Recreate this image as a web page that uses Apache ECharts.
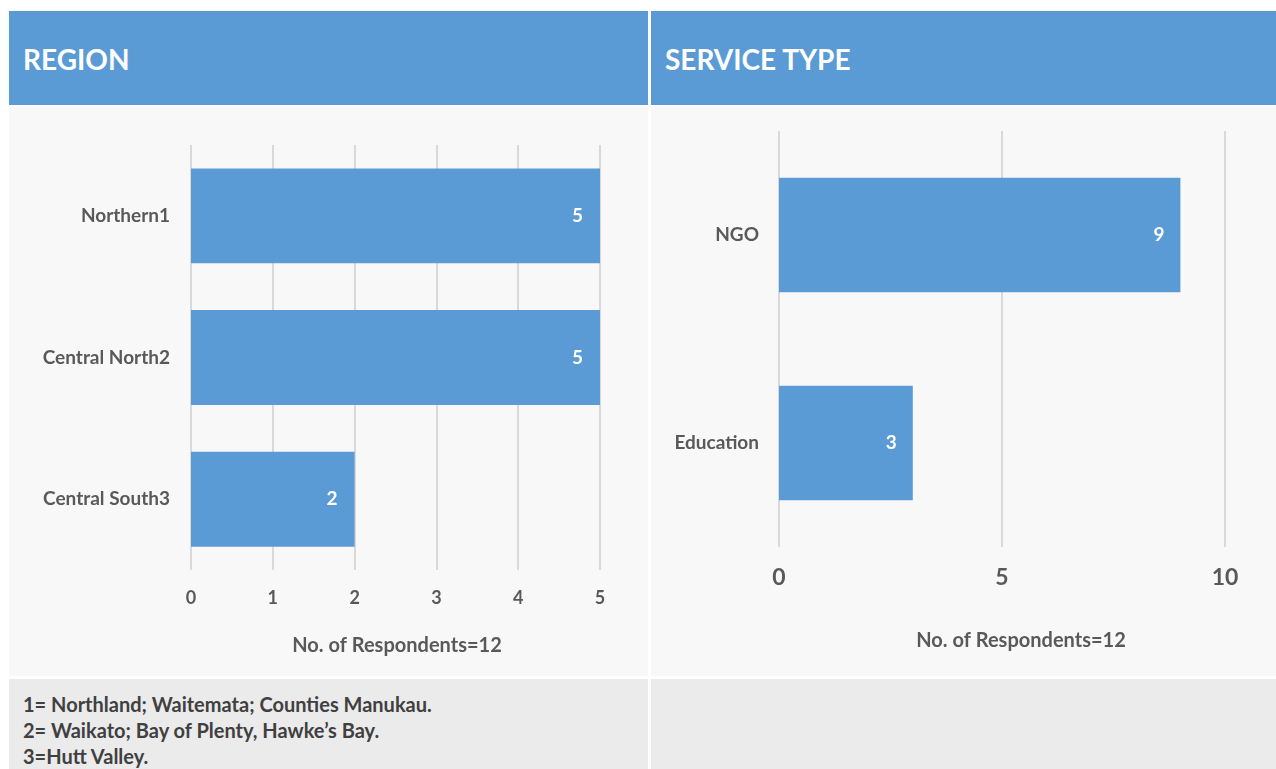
<!DOCTYPE html>
<html><head><meta charset="utf-8">
<script src="https://cdn.jsdelivr.net/npm/echarts@6/dist/echarts.min.js"></script>
<style>
html,body{margin:0;padding:0;background:#fff;width:1276px;height:769px;overflow:hidden;font-family:Lato,"Open Sans",sans-serif;}
.box{position:absolute;}
.hdr{background:#5b9bd5;color:#fff;font-weight:bold;font-size:28px;box-sizing:border-box;padding-left:14px;line-height:96px;}
.body{background:#f8f8f8;}
.foot{background:#ebebeb;color:#404040;font-weight:bold;font-size:20px;line-height:26px;box-sizing:border-box;padding:12px 0 0 14px;}
#chart{position:absolute;left:0;top:0;width:1276px;height:769px;}
</style></head><body>
<div class="box hdr" style="left:9px;top:11px;width:639px;height:94px;">REGION</div>
<div class="box hdr" style="left:651px;top:11px;width:625px;height:94px;">SERVICE TYPE</div>
<div class="box body" style="left:9px;top:107px;width:639px;height:569px;"></div>
<div class="box body" style="left:651px;top:107px;width:625px;height:569px;"></div>
<div class="box foot" style="left:9px;top:679px;width:639px;height:90px;" id="notes"></div>
<div class="box foot" style="left:651px;top:679px;width:625px;height:90px;"></div>
<div id="chart"></div>
<script>
const regionCategories = ["Northern1", "Central North2", "Central South3"];
const regionValues = [5, 5, 2];
const serviceCategories = ["NGO", "Education"];
const serviceValues = [9, 3];
const axisName = "No. of Respondents=12";
const footnotes = ["1= Northland; Waitemata; Counties Manukau.", "2= Waikato; Bay of Plenty, Hawke\u2019s Bay.", "3=Hutt Valley."];

document.getElementById('notes').innerHTML = footnotes.map(s => '<div>' + s.replace(/&/g,'&amp;') + '</div>').join('');

const FONT = 'Lato';
const GREY = '#595959';
const BLUE = '#5b9bd5';
const chart = echarts.init(document.getElementById('chart'));
chart.setOption({
  backgroundColor: 'transparent',
  animation: false,
  grid: [
    {left: 191, top: 145, width: 409, height: 425},
    {left: 779, top: 131, width: 446, height: 416}
  ],
  xAxis: [
    {gridIndex: 0, type: 'value', min: 0, max: 5, interval: 1,
     axisLine: {show: false}, axisTick: {show: false},
     splitLine: {lineStyle: {color: '#d9d9d9', width: 2}},
     axisLabel: {color: GREY, fontFamily: FONT, fontWeight: 'bold', fontSize: 18, margin: 19},
     name: axisName, nameLocation: 'middle', nameGap: 66,
     nameTextStyle: {color: GREY, fontFamily: FONT, fontWeight: 'bold', fontSize: 20, padding: [0, 0, 0, 3]}},
    {gridIndex: 1, type: 'value', min: 0, max: 10, interval: 5,
     axisLine: {show: false}, axisTick: {show: false},
     splitLine: {lineStyle: {color: '#d9d9d9', width: 2}},
     axisLabel: {color: GREY, fontFamily: FONT, fontWeight: 'bold', fontSize: 23, margin: 19},
     name: axisName, nameLocation: 'middle', nameGap: 84,
     nameTextStyle: {color: GREY, fontFamily: FONT, fontWeight: 'bold', fontSize: 20, padding: [0, 0, 0, 38]}}
  ],
  yAxis: [
    {gridIndex: 0, type: 'category', data: regionCategories, inverse: true,
     axisLine: {show: false}, axisTick: {show: false},
     axisLabel: {color: GREY, fontFamily: FONT, fontWeight: 'bold', fontSize: 19, margin: 21}},
    {gridIndex: 1, type: 'category', data: serviceCategories, inverse: true,
     axisLine: {show: false}, axisTick: {show: false},
     axisLabel: {color: GREY, fontFamily: FONT, fontWeight: 'bold', fontSize: 19, margin: 20}}
  ],
  series: [
    {type: 'bar', xAxisIndex: 0, yAxisIndex: 0, data: regionValues, barWidth: '67%',
     itemStyle: {color: BLUE},
     label: {show: true, position: 'insideRight', distance: 17, color: '#fff', fontFamily: FONT, fontWeight: 'bold', fontSize: 19}},
    {type: 'bar', xAxisIndex: 1, yAxisIndex: 1, data: serviceValues, barWidth: '55%',
     itemStyle: {color: BLUE},
     label: {show: true, position: 'insideRight', distance: 16, color: '#fff', fontFamily: FONT, fontWeight: 'bold', fontSize: 19}}
  ]
});
</script>
</body></html>
